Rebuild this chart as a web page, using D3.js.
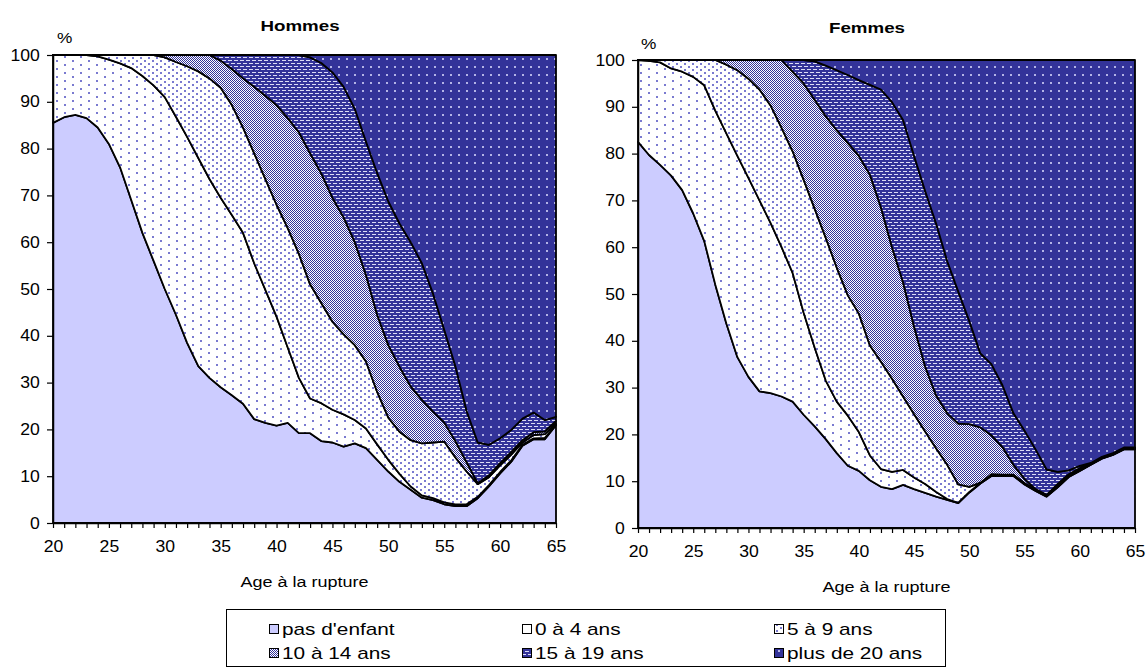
<!DOCTYPE html>
<html><head><meta charset="utf-8">
<script src="https://cdn.jsdelivr.net/npm/d3@7"></script>
<style>
body{margin:0;background:#fff}
svg{display:block}
</style>
</head><body>
<script>
// ---------- DATA ----------
const ages = [20,21,22,23,24,25,26,27,28,29,30,31,32,33,34,35,36,37,38,39,40,41,42,43,44,45,46,47,48,49,50,51,52,53,54,55,56,57,58,59,60,61,62,63,64,65];
const yTickValues = [0,10,20,30,40,50,60,70,80,90,100];
const xTickLabels = [20,25,30,35,40,45,50,55,60,65];
const seriesNames = ["pas d'enfant","0 à 4 ans","5 à 9 ans","10 à 14 ans","15 à 19 ans","plus de 20 ans"];
const panelTitles = ["Hommes","Femmes"];
const xAxisTitle = "Age à la rupture";
const yUnit = "%";

// cumulative upper boundary (%) of each layer, ages 20..65
const hommesPasEnfantCum = [85.5,86.7,87.2,86.5,84.5,81.0,76.0,69.0,62.0,56.0,50.0,44.5,38.5,33.5,31.0,29.0,27.3,25.5,22.2,21.4,20.8,21.4,19.2,19.2,17.5,17.2,16.3,17.0,16.0,13.5,11.0,8.8,7.1,5.4,4.9,4.0,3.6,3.6,5.3,7.8,10.6,13.1,16.5,17.9,17.9,20.9];
const hommes0a4Cum = [100,100,100,100,99.7,99.0,98.2,97.2,95.5,93.5,91.0,86.8,82.5,78.0,73.5,69.5,65.8,62.0,55.5,49.8,44.1,37.5,31.0,26.6,25.6,24.2,23.2,22.0,20.2,16.8,13.5,10.5,7.8,5.9,5.3,4.4,4.0,4.0,5.6,8.1,10.9,13.4,16.7,18.1,18.2,21.0];
const hommes5a9Cum = [100,100,100,100,100,100,100,100,100,100,99.5,98.5,97.6,96.5,95.0,93.0,89.3,84.5,79.0,73.5,68.0,63.0,57.5,51.0,47.0,43.0,40.3,38.0,34.5,28.0,22.5,19.5,17.7,17.0,17.2,17.4,14.0,11.0,8.3,9.8,12.3,14.6,17.2,18.8,19.0,21.3];
const hommes10a14Cum = [100,100,100,100,100,100,100,100,100,100,100,100,100,100,100,98.8,97.0,95.0,93.2,91.3,89.3,86.5,83.5,79.0,74.7,69.5,65.3,60.0,53.0,44.5,38.0,33.4,29.2,26.3,23.8,21.5,17.5,13.0,8.5,10.2,12.8,15.2,17.7,19.4,19.6,21.8];
const hommes15a19Cum = [100,100,100,100,100,100,100,100,100,100,100,100,100,100,100,100,100,100,100,100,100,100,100,99.5,98.3,96.3,93.2,88.5,81.5,74.8,68.7,64.0,60.0,55.5,49.0,41.3,33.5,24.0,17.2,16.7,18.1,19.9,22.3,23.6,22.0,22.7];

const femmesPasEnfantCum = [82.5,79.7,77.6,75.3,72.2,67.2,61.3,52.0,43.7,36.5,32.3,29.2,28.8,28.1,27.0,24.2,21.7,19.0,16.0,13.3,12.2,10.2,8.8,8.3,9.2,8.3,7.5,6.7,6.0,5.3,7.6,9.5,11.1,11.1,11.1,9.3,7.9,6.7,8.7,10.9,12.2,13.5,14.8,15.6,16.8,16.8];
const femmes0a4Cum = [100,99.8,99.5,98.2,97.5,96.4,94.6,89.2,84.3,79.5,74.8,70.0,65.2,60.0,54.5,46.0,38.5,31.5,27.0,24.0,20.5,15.5,12.6,12.0,12.4,10.8,9.4,7.7,6.2,5.4,7.7,9.6,11.2,11.2,11.2,9.4,8.0,6.8,8.8,11.0,12.3,13.6,14.9,15.7,16.9,16.9];
const femmes5a9Cum = [100,100,100,100,100,100,100,100,99.0,97.8,96.0,93.7,90.3,85.5,80.5,74.4,68.2,62.0,55.6,49.7,45.8,39.0,35.5,31.9,28.1,24.3,20.6,17.0,13.5,9.3,8.8,9.7,11.5,11.4,11.4,9.6,8.2,7.0,9.0,11.2,12.5,13.7,15.0,15.8,17.0,17.0];
const femmes10a14Cum = [100,100,100,100,100,100,100,100,100,100,100,100,100,100,97.5,95.0,91.5,88.0,85.0,82.3,79.5,75.5,68.5,60.0,52.5,43.0,34.5,28.3,24.5,22.3,22.2,21.5,19.8,17.3,13.5,10.5,8.3,7.1,9.4,11.5,12.8,13.8,15.1,15.9,17.1,17.1];
const femmes15a19Cum = [100,100,100,100,100,100,100,100,100,100,100,100,100,100,100,100,99.7,98.8,97.8,96.8,95.7,94.7,93.7,91.0,87.2,79.5,72.0,65.0,57.0,50.5,44.2,37.3,35.0,30.5,24.5,20.8,16.8,12.5,12.0,12.3,13.3,13.9,15.2,16.0,17.2,17.2];

// ---------- STYLE / LAYOUT ----------
const FONT = "Arial, 'Liberation Sans', sans-serif";
const DARK = "#333399";
const W = 1146, H = 671;

const svg = d3.select("body").append("svg").attr("width", W).attr("height", H);
const defs = svg.append("defs");

function makePattern(id, w, h, bg, rects) {
  const p = defs.append("pattern").attr("id", id)
    .attr("patternUnits", "userSpaceOnUse").attr("width", w).attr("height", h);
  p.append("rect").attr("width", w).attr("height", h).attr("fill", bg).attr("shape-rendering","crispEdges");
  rects.forEach(r => p.append("rect").attr("x", r[0]).attr("y", r[1])
    .attr("width", r[2]).attr("height", r[3]).attr("fill", r[4]).attr("shape-rendering","crispEdges"));
}
const dotC = "#7a7ad0";
makePattern("p04", 16, 8, "#ffffff", [[0,0,2,2,dotC],[8,4,2,2,dotC]]);
makePattern("p59", 8, 6, "#ffffff", [[0,0,2,2,dotC],[4,3,2,2,dotC]]);
makePattern("p1014", 2, 2, "#ffffff", [[0,0,1,1,DARK],[1,1,1,1,DARK]]);
makePattern("p1519", 6, 6, DARK, [[0,0,4,1,"#dcdcf6"],[3,3,3,1,"#dcdcf6"],[0,3,1,1,"#dcdcf6"]]);
makePattern("p20", 8, 8, DARK, [[2,2,2,2,"#b4b4e6"]]);

const layerFills = ["#CCCCFF","url(#p04)","url(#p59)","url(#p1014)","url(#p1519)","url(#p20)"];
const legendFills = ["#CCCCFF","#ffffff","url(#p59)","url(#p1014)","url(#p1519)","url(#p20)"];

const panels = [
  {title: panelTitles[0], left:53, right:556, top:55, bottom:523, titleX:300, titleY:31, pctX:57, pctY:43,
   cum:[hommesPasEnfantCum, hommes0a4Cum, hommes5a9Cum, hommes10a14Cum, hommes15a19Cum]},
  {title: panelTitles[1], left:638, right:1135, top:60, bottom:528, titleX:867, titleY:33, pctX:641, pctY:49,
   cum:[femmesPasEnfantCum, femmes0a4Cum, femmes5a9Cum, femmes10a14Cum, femmes15a19Cum]}
];

function stretchedText(parent, x, y, txt, size, sx, anchor, weight) {
  return parent.append("text")
    .attr("transform", `translate(${x},${y}) scale(${sx},1)`)
    .attr("text-anchor", anchor).attr("font-family", FONT)
    .attr("font-size", size).attr("font-weight", weight || "normal")
    .attr("fill", "#000").text(txt);
}

panels.forEach(pn => {
  const g = svg.append("g");
  const x = d3.scaleLinear().domain([20, 65]).range([pn.left, pn.right]);
  const y = d3.scaleLinear().domain([0, 100]).range([pn.bottom, pn.top]);

  for (let i = 0; i < 6; i++) {
    const lo = i === 0 ? null : pn.cum[i - 1];
    const hi = i === 5 ? null : pn.cum[i];
    const area = d3.area()
      .x(d => x(d))
      .y0((d, j) => y(lo ? lo[j] : 0))
      .y1((d, j) => y(hi ? hi[j] : 100));
    g.append("path").datum(ages).attr("d", area)
      .attr("fill", layerFills[i]).attr("stroke", "#000")
      .attr("stroke-width", 1.8).attr("stroke-linejoin", "round");
  }

  // y axis
  const ya = g.append("g").attr("transform", `translate(${pn.left},0)`)
    .call(d3.axisLeft(y).tickValues(yTickValues).tickSize(6).tickSizeOuter(0).tickPadding(6));
  ya.attr("font-family", FONT).attr("font-size", 16);
  ya.select(".domain").attr("stroke", "#000").attr("stroke-width", 1.5);
  ya.selectAll(".tick line").attr("stroke", "#000").attr("stroke-width", 1.2);
  ya.selectAll(".tick text").attr("fill", "#000").attr("transform", "scale(1.1,1)");

  // x axis
  const xa = g.append("g").attr("transform", `translate(0,${pn.bottom})`)
    .call(d3.axisBottom(x).tickValues(ages).tickSize(5).tickSizeOuter(0).tickPadding(13)
      .tickFormat(d => xTickLabels.includes(d) ? d : ""));
  xa.attr("font-family", FONT).attr("font-size", 16);
  xa.select(".domain").attr("stroke", "#000").attr("stroke-width", 1.5);
  xa.selectAll(".tick line").attr("stroke", "#000").attr("stroke-width", 1.2);
  xa.selectAll(".tick text").attr("fill", "#000").attr("transform", "scale(1.1,1)");

  // titles
  stretchedText(g, pn.titleX, pn.titleY, pn.title, 15, 1.25, "middle", "bold");
  stretchedText(g, pn.pctX, pn.pctY, yUnit, 15, 1.15, "start");
  stretchedText(g, (pn.left + pn.right) / 2, pn.bottom + 64, xAxisTitle, 15, 1.2, "middle");
});

// ---------- LEGEND ----------
const lg = svg.append("g");
lg.append("rect").attr("x", 226.5).attr("y", 609.5).attr("width", 719).attr("height", 57)
  .attr("fill", "#fff").attr("stroke", "#000").attr("stroke-width", 1);
const colX = [269, 522, 774];
const rowY = [624, 648];
seriesNames.forEach((name, i) => {
  const cx = colX[i % 3], cy = rowY[Math.floor(i / 3)];
  lg.append("rect").attr("x", cx + 0.5).attr("y", cy + 0.5).attr("width", 9).attr("height", 9)
    .attr("fill", legendFills[i]).attr("stroke", "#000").attr("stroke-width", 1);
  stretchedText(lg, cx + 13, cy + 10.5, name, 16, 1.3, "start");
});
</script>
</body></html>
